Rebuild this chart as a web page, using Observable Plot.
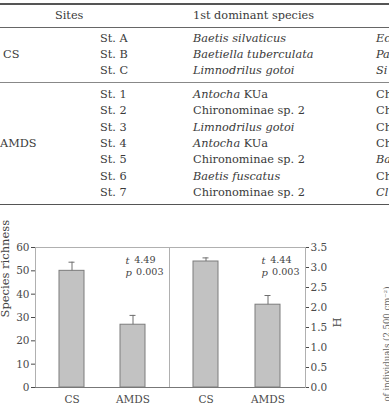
<!DOCTYPE html>
<html><head><meta charset="utf-8">
<script src="https://cdn.jsdelivr.net/npm/d3@7"></script>
<script src="https://cdn.jsdelivr.net/npm/@observablehq/plot@0.6"></script>
<style>
html,body{margin:0;padding:0;background:#fff}
body{width:389px;height:410px;overflow:hidden;position:relative;font-family:"DejaVu Serif",serif;color:#3a3a3a}
.t{position:absolute;font-size:11.3px;line-height:16px;height:16px;white-space:nowrap}
.hl{position:absolute;left:0;width:389px;background:#555}
.chart{position:absolute;top:240px}
</style></head><body>
<div id="table"></div>
<div id="c1" class="chart" style="left:0"></div>
<div id="c2" class="chart" style="left:169px"></div>
<script>
// ---- table data ----
const tableHeader = ["Sites", "1st dominant species"];
const groupNames = ["CS", "AMDS"];
const stations = ["St. A","St. B","St. C","St. 1","St. 2","St. 3","St. 4","St. 5","St. 6","St. 7"];
const dominant1 = ["<i>Baetis silvaticus</i>","<i>Baetiella tuberculata</i>","<i>Limnodrilus gotoi</i>",
  "<i>Antocha</i> KUa","Chironominae sp. 2","<i>Limnodrilus gotoi</i>","<i>Antocha</i> KUa",
  "Chironominae sp. 2","<i>Baetis fuscatus</i>","Chironominae sp. 2"];
const dominant2 = ["<i>Ec</i>","<i>Pa</i>","<i>Si</i>","Ch","Ch","Ch","Ch","<i>Ba</i>","Ch","<i>Cl</i>"];

// ---- chart data ----
const sites = ["CS", "AMDS"];
const richness = [50, 26.9];
const richnessSE = [3.7, 4.0];
const diversityH = [3.15, 2.07];
const diversitySE = [0.09, 0.23];
const richTicks = [0, 10, 20, 30, 40, 50, 60];
const hTicks = [0, 0.5, 1, 1.5, 2, 2.5, 3, 3.5];
const tStats = ["4.49", "4.44"];
const pStats = ["0.003", "0.003"];
const yLabels = ["Species richness", "H"];
const nextLabel = "of individuals (2,500 cm\u207B\u00B2)";

// ---- table layout ----
const tbl = document.getElementById("table");
function line(y, h, c){const d=document.createElement("div");d.className="hl";d.style.top=y+"px";d.style.height=h+"px";if(c)d.style.background=c;tbl.appendChild(d);}
function txt(x, cy, html){const d=document.createElement("div");d.className="t";d.style.left=x+"px";d.style.top=(cy-8)+"px";d.innerHTML=html;tbl.appendChild(d);}
line(2.5, 2, "#555");
line(26.5, 1, "#666");
line(81.5, 1, "#888");
line(203.5, 1.5, "#555");
txt(55, 15.5, tableHeader[0]);
txt(193, 15.5, tableHeader[1]);
const rowY = [38.8, 55.1, 71.4, 95, 111.3, 127.6, 143.9, 160.2, 176.5, 192.8];
stations.forEach((s,i)=>{
  txt(100, rowY[i], s);
  txt(193, rowY[i], dominant1[i]);
  txt(376, rowY[i], dominant2[i]);
});
txt(3, rowY[1], groupNames[0]);
txt(0, rowY[6], groupNames[1]);

// ---- charts ----
const rich = sites.map((s,i)=>({site:s, value:richness[i], se:richnessSE[i]}));
const hdat = sites.map((s,i)=>({site:s, value:diversityH[i], se:diversitySE[i]}));
const style = {fontFamily:"DejaVu Serif", fontSize:"10.5px", color:"#4a4a4a", background:"transparent", overflow:"visible"};
const barFill = "#c2c2c2", barStroke = "#7c7c7c", errStroke = "#6e6e6e";
function statMarks(i){
  const f = 9.6;
  return [
    Plot.text([yLabels[i]], {frameAnchor:"top-right", text:()=>"t", dx:-44, dy:9, textAnchor:"start", fontStyle:"italic", fill:"#444", fontSize:10}),
    Plot.text([tStats[i]], {frameAnchor:"top-right", text:d=>d, dx:-14, dy:9, textAnchor:"end", fill:"#444", fontSize:f}),
    Plot.text([yLabels[i]], {frameAnchor:"top-right", text:()=>"p", dx:-44, dy:21, textAnchor:"start", fontStyle:"italic", fill:"#444", fontSize:10}),
    Plot.text([pStats[i]], {frameAnchor:"top-right", text:d=>d, dx:-6, dy:21, textAnchor:"end", fill:"#444", fontSize:f})
  ];
}
const xOpts = {domain:sites, paddingInner:0.59, paddingOuter:0.39, label:null, tickSize:0, tickPadding:8};

const p1 = Plot.plot({
  width:169, height:170, marginLeft:35, marginRight:0, marginTop:7, marginBottom:23,
  style,
  x:xOpts,
  y:{domain:[0,60], ticks:richTicks, tickSize:4, tickPadding:2, label:null},
  marks:[
    Plot.frame({stroke:"#b0b0b0"}),
    Plot.barY(rich, {x:"site", y:"value", fill:barFill, stroke:barStroke}),
    Plot.ruleX(rich, {x:"site", y1:"value", y2:d=>d.value+d.se, stroke:errStroke}),
    Plot.tickY(rich, {x:"site", y:d=>d.value+d.se, stroke:errStroke, insetLeft:9.5, insetRight:9.5}),
    Plot.ruleY([0], {stroke:"#777"}),
    ...statMarks(0),
    Plot.text([yLabels[0]], {frameAnchor:"left", text:d=>d, rotate:-90, dx:-30, fill:"#444", fontSize:11.5})
  ]
});
document.getElementById("c1").appendChild(p1);

const p2 = Plot.plot({
  width:220, height:170, marginLeft:0, marginRight:84, marginTop:7, marginBottom:23,
  style,
  x:xOpts,
  y:{domain:[0,3.5], ticks:hTicks, tickFormat:d3.format(".1f"), axis:"right", tickSize:3, tickPadding:2, label:null},
  marks:[
    Plot.frame({stroke:"#b0b0b0"}),
    Plot.barY(hdat, {x:"site", y:"value", fill:barFill, stroke:barStroke}),
    Plot.ruleX(hdat, {x:"site", y1:"value", y2:d=>d.value+d.se, stroke:errStroke}),
    Plot.tickY(hdat, {x:"site", y:d=>d.value+d.se, stroke:errStroke, insetLeft:9.5, insetRight:9.5}),
    Plot.ruleY([0], {stroke:"#777"}),
    ...statMarks(1),
    Plot.text([yLabels[1]], {frameAnchor:"right", text:d=>d, rotate:-90, dx:32, fill:"#444", fontSize:11.5}),
    Plot.text([nextLabel], {frameAnchor:"top-right", text:d=>d, rotate:-90, textAnchor:"end", dx:78, dy:39, fill:"#666", fontSize:8.5})
  ]
});
document.getElementById("c2").appendChild(p2);
</script>
</body></html>
